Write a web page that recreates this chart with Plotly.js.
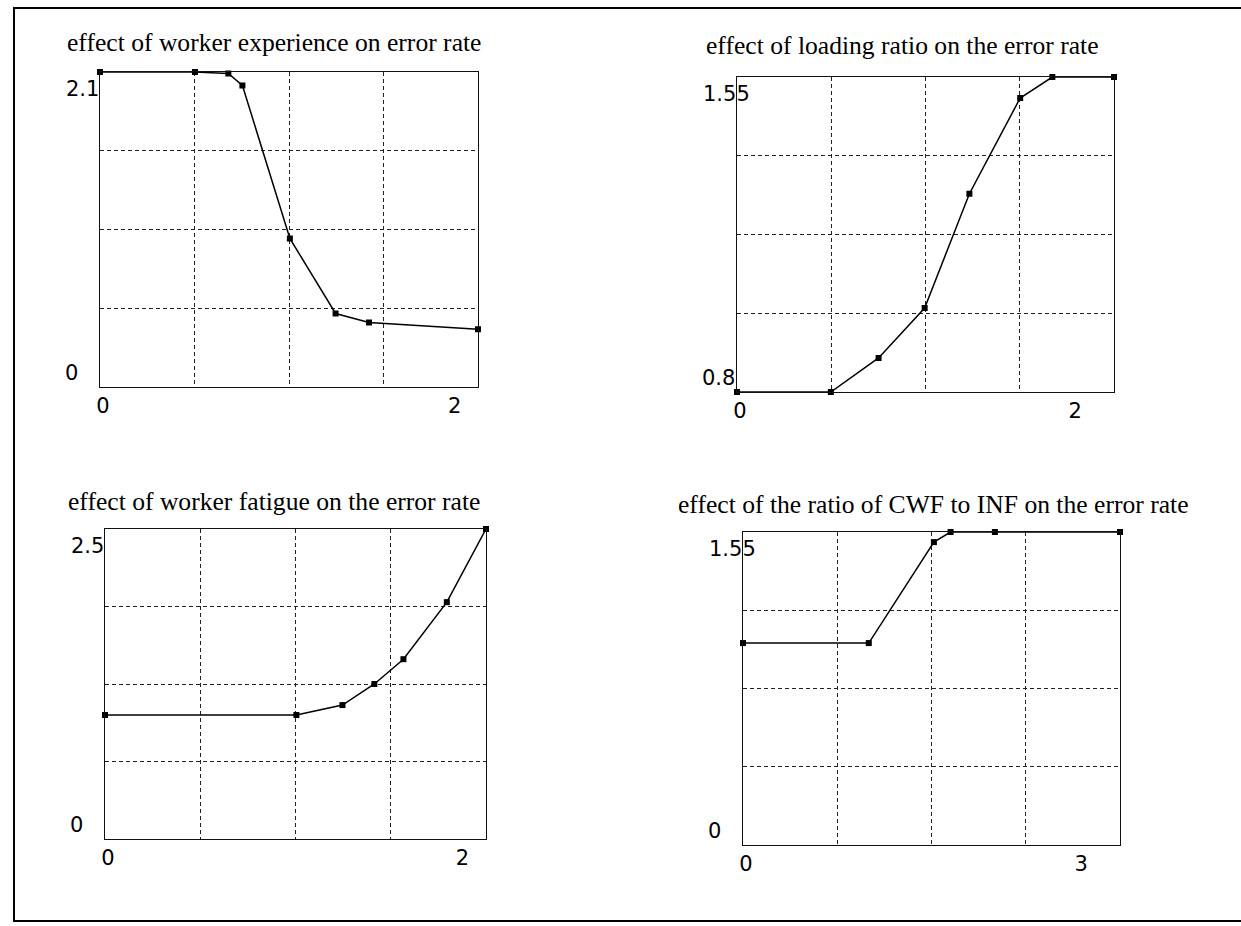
<!DOCTYPE html>
<html><head><meta charset="utf-8">
<script src="https://cdn.plot.ly/plotly-3.0.1.min.js"></script>
<style>html,body{margin:0;padding:0;background:#fff}#chart{width:1241px;height:926px}</style>
</head><body><div id="chart"></div>
<script>
// ---- data ----
const titles = [
  "effect of worker experience on error rate",
  "effect of loading ratio on the error rate",
  "effect of worker fatigue on the error rate",
  "effect of the ratio of CWF to INF on the error rate"
];
const experienceX = [0, 0.54, 0.73, 0.81, 1.08, 1.34, 1.53, 2.15];
const experienceY = [2.1, 2.1, 2.09, 2.01, 0.99, 0.49, 0.43, 0.385];
const loadingX = [0, 0.56, 0.845, 1.12, 1.387, 1.69, 1.882, 2.25];
const loadingY = [0.8, 0.8, 0.881, 1.0, 1.272, 1.5, 1.55, 1.55];
const fatigueX = [0, 1.08, 1.34, 1.52, 1.684, 1.929, 2.15];
const fatigueY = [1.0, 1.0, 1.08, 1.25, 1.45, 1.91, 2.5];
const cwfX = [0, 1.126, 1.709, 1.858, 2.255, 3.375];
const cwfY = [1.0, 1.0, 1.5, 1.55, 1.55, 1.55];
const xTickValues = [[0, 2], [0, 2], [0, 2], [0, 3]];
const xTickLabels = [["0", "2"], ["0", "2"], ["0", "2"], ["0", "3"]];
const yTickLabels = [["0", "2.1"], ["0.8", "1.55"], ["0", "2.5"], ["0", "1.55"]];
const xRanges = [[0, 2.15], [0, 2.25], [0, 2.15], [0, 3.375]];
const yRanges = [[0, 2.1], [0.8, 1.55], [0, 2.5], [0, 1.55]];

// ---- layout geometry (pixels) ----
const W = 1241, H = 926;
const boxes = [
  {l: 100, r: 478, t: 72, b: 387},
  {l: 737, r: 1114, t: 77, b: 392},
  {l: 105, r: 486, t: 529, b: 839},
  {l: 743, r: 1120, t: 532, b: 845}
];
const titlePos = [
  {x: 65, y: 43}, {x: 704, y: 46}, {x: 66, y: 501}, {x: 676, y: 504}
];

const seriesX = [experienceX, loadingX, fatigueX, cwfX];
const seriesY = [experienceY, loadingY, fatigueY, cwfY];

const traces = [];
const layout = {
  width: W, height: H,
  margin: {l: 0, r: 0, t: 0, b: 0},
  paper_bgcolor: "#fff", plot_bgcolor: "#fff",
  showlegend: false,
  annotations: [], shapes: []
};

const tickFont = {family: "DejaVu Sans, Verdana, sans-serif", size: 21, color: "#000"};
const gridStyle = {showgrid: true, gridcolor: "#222", gridwidth: 1, griddash: "4px,3px", ticks: ""};

for (let i = 0; i < 4; i++) {
  const n = i === 0 ? "" : String(i + 1);
  const bx = boxes[i];
  traces.push({
    type: "scatter", mode: "lines+markers",
    x: seriesX[i], y: seriesY[i],
    xaxis: "x" + n, yaxis: "y" + n,
    line: {color: "#000", width: 1.5},
    marker: {symbol: "square", size: 6, color: "#000"},
    cliponaxis: false, hoverinfo: "x+y"
  });
  const xr = xRanges[i], yr = yRanges[i];
  layout["xaxis" + n] = {
    domain: [bx.l / W, bx.r / W],
    anchor: "y" + n,
    range: xr, fixedrange: true,
    showline: true, linecolor: "#111", linewidth: 1.2, mirror: true,
    showgrid: false, zeroline: false, ticks: "",
    tickmode: "array", tickvals: xTickValues[i], ticktext: xTickLabels[i],
    tickfont: tickFont, ticklabelshift: 3,
    minor: Object.assign({tick0: xr[0], dtick: (xr[1] - xr[0]) / 4}, gridStyle)
  };
  layout["yaxis" + n] = {
    domain: [1 - bx.b / H, 1 - bx.t / H],
    anchor: "x" + n,
    range: yr, fixedrange: true,
    showline: true, linecolor: "#111", linewidth: 1.2, mirror: true,
    showgrid: false, zeroline: false, ticks: "", showticklabels: false,
    minor: Object.assign({tick0: yr[0], dtick: (yr[1] - yr[0]) / 4}, gridStyle)
  };
  // y end labels (min near bottom, max near top, left aligned)
  layout.annotations.push({
    xref: "x" + n + " domain", yref: "y" + n + " domain",
    x: 0, y: 0, xshift: -37, yshift: 14, xanchor: "left", yanchor: "middle",
    text: yTickLabels[i][0], showarrow: false, font: tickFont
  });
  layout.annotations.push({
    xref: "x" + n + " domain", yref: "y" + n + " domain",
    x: 0, y: 1, xshift: -36, yshift: -17, xanchor: "left", yanchor: "middle",
    text: yTickLabels[i][1], showarrow: false, font: tickFont
  });
  // panel title
  layout.annotations.push({
    xref: "paper", yref: "paper",
    x: titlePos[i].x / W, y: 1 - titlePos[i].y / H,
    xanchor: "left", yanchor: "middle",
    text: titles[i], showarrow: false,
    font: {family: "Liberation Serif, Times New Roman, serif", size: 25.6, color: "#000"}
  });
}

// outer frame of the scanned figure
layout.shapes.push({
  type: "rect", xref: "paper", yref: "paper",
  x0: 14 / W, x1: 1.01, y0: 1 - 921 / H, y1: 1 - 8 / H,
  line: {color: "#000", width: 2}
});

Plotly.newPlot("chart", traces, layout, {displayModeBar: false, staticPlot: false});
</script>
</body></html>
